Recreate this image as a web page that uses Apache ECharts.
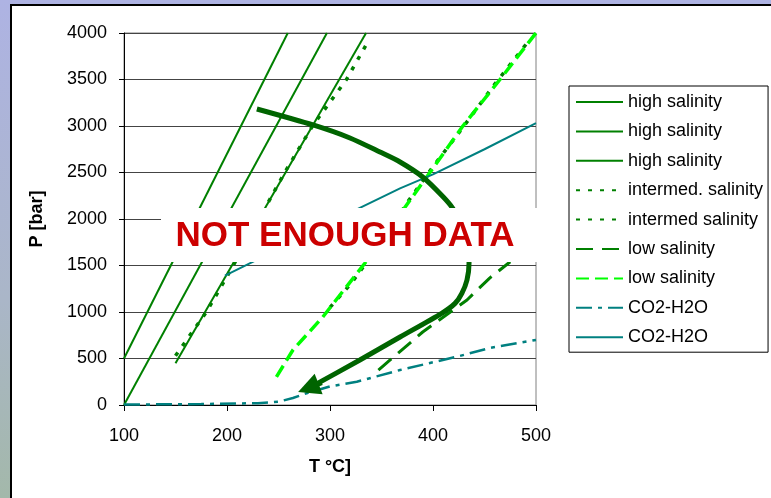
<!DOCTYPE html>
<html>
<head>
<meta charset="utf-8">
<script src="https://cdn.jsdelivr.net/npm/echarts@6/dist/echarts.min.js"></script>
<style>
  html, body { margin: 0; padding: 0; }
  body { width: 771px; height: 498px; overflow: hidden; position: relative;
         background: linear-gradient(to bottom, #aeb3e3 0%, #aab6c8 60%, #a3b8aa 100%); }
  #frame { position: absolute; left: 10px; top: 4px; right: 0; bottom: 0;
           background: #fff; border-left: 2px solid #000; border-top: 2px solid #000; }
  #chart { position: absolute; left: 0; top: 0; width: 771px; height: 498px; }
</style>
</head>
<body>
<div id="frame"></div>
<div id="chart"></div>
<script>
// ---- data (T in °C, P in bar) ----
const seriesNames = [
  'high salinity', 'high salinity ', 'high salinity  ',
  'intermed. salinity', 'intermed salinity',
  'low salinity', 'low salinity ',
  'CO2-H2O', 'CO2-H2O '
];
const highSal1 = [[100, 500], [259, 4000]];
const highSal2 = [[100, 0], [297, 4000]];
const highSal3 = [[150, 450], [335, 4000]];
const intermedSal1 = [[150, 530], [180, 1000], [202, 1420], [231, 2000], [256, 2500], [283, 3000], [316, 3500], [338, 3930]];
const intermedSal2 = [[300, 1050], [320, 1300], [340, 1600], [376, 2193], [399, 2548], [425, 2925], [460, 3450], [494, 3930]];
const lowSal1 = [[347, 376], [390, 785], [433, 1129], [455, 1365], [475, 1540]];
const lowSal2 = [[248, 303], [264, 591], [293, 946], [334, 1527], [373, 2130], [397, 2500], [429, 3000], [465, 3500], [500, 4000]];
const co2DashDot = [[100, 5], [175, 10], [230, 20], [250, 35], [264, 75], [278, 129], [300, 200], [326, 250], [368, 376], [426, 527], [455, 613], [500, 700]];
const co2Solid = [[198, 1390], [225, 1540], [250, 1680], [300, 1960], [329, 2120], [368, 2330], [400, 2480], [450, 2750], [500, 3030]];
const arrowPath = [[229, 3183], [283.5, 3011], [319.4, 2871], [348.5, 2720], [368, 2613], [390, 2452], [410, 2237], [419, 2118], [428, 1935], [433, 1720], [435, 1527], [433, 1344], [428, 1201], [421.4, 1093], [408.4, 986], [368, 731], [329, 484], [280, 184]];
const arrowHead = [[292, 240], [279, 184]];
const xTicks = { min: 100, max: 500, step: 100 };
const yTicks = { min: 0, max: 4000, step: 500 };
const overlayText = 'NOT ENOUGH DATA';
const xName = 'T °C]';
const yName = 'P [bar]';

// ---- styling ----
const FONT = '"Liberation Sans", Arial, sans-serif';
const DG = '#008000';
const LIME = '#00ff00';
const TEAL = '#008080';
const ARROW = '#006400';

function lineSeries(name, data, color, width, type) {
  return {
    name: name, type: 'line', data: data, symbol: 'none', showSymbol: false,
    lineStyle: { color: color, width: width, type: type, cap: 'butt' },
    itemStyle: { color: color },
    silent: true, z: 2
  };
}

const series = [
  lineSeries(seriesNames[0], highSal1, DG, 2, 'solid'),
  lineSeries(seriesNames[1], highSal2, DG, 2, 'solid'),
  lineSeries(seriesNames[2], highSal3, DG, 2, 'solid'),
  lineSeries(seriesNames[3], intermedSal1, DG, 3.5, [4, 8]),
  lineSeries(seriesNames[4], intermedSal2, DG, 3.5, [4, 8]),
  lineSeries(seriesNames[5], lowSal1, DG, 3, [17, 9]),
  lineSeries(seriesNames[6], lowSal2, LIME, 3.5, [13, 6]),
  lineSeries(seriesNames[7], co2DashDot, TEAL, 2.5, [16, 6, 4, 6]),
  lineSeries(seriesNames[8], co2Solid, TEAL, 2, 'solid'),
  {
    name: 'arrowCurve', type: 'line', data: arrowPath, symbol: 'none', showSymbol: false,
    smooth: 0.25,
    lineStyle: { color: ARROW, width: 5 },
    silent: true, z: 5
  },
  {
    name: 'arrowHead', type: 'lines', coordinateSystem: 'cartesian2d',
    data: [{ coords: arrowHead }],
    symbol: ['none', 'triangle'], symbolSize: [20, 22],
    lineStyle: { color: ARROW, width: 5, opacity: 1 },
    itemStyle: { color: ARROW },
    silent: true, z: 5
  }
];

const chart = echarts.init(document.getElementById('chart'), null, { renderer: 'canvas' });
chart.setOption({
  animation: false,
  backgroundColor: 'transparent',
  textStyle: { fontFamily: FONT },
  grid: { left: 124, right: 235, top: 33, bottom: 93, show: true, borderColor: '#808080', borderWidth: 1, backgroundColor: 'transparent' },
  xAxis: {
    type: 'value', min: xTicks.min, max: xTicks.max, interval: xTicks.step,
    name: xName, nameLocation: 'middle', nameGap: 53,
    nameTextStyle: { fontFamily: FONT, fontWeight: 'bold', fontSize: 18, color: '#000' },
    axisLine: { show: true, lineStyle: { color: '#000', width: 1 } },
    axisTick: { show: true, inside: false, length: 6, lineStyle: { color: '#000' } },
    axisLabel: { margin: 22, fontSize: 18, color: '#000', fontFamily: FONT, formatter: function (v) { return String(v); } },
    splitLine: { show: false }
  },
  yAxis: {
    type: 'value', min: yTicks.min, max: yTicks.max, interval: yTicks.step,
    name: yName, nameLocation: 'middle', nameGap: 78, nameRotate: 90,
    nameTextStyle: { fontFamily: FONT, fontWeight: 'bold', fontSize: 18, color: '#000' },
    axisLine: { show: true, lineStyle: { color: '#000', width: 1 } },
    axisTick: { show: true, inside: false, length: 5, lineStyle: { color: '#000' } },
    axisLabel: { margin: 17, fontSize: 18, color: '#000', fontFamily: FONT, formatter: function (v) { return String(v); } },
    splitLine: { show: true, lineStyle: { color: '#444', width: 1 } }
  },
  legend: {
    data: seriesNames,
    orient: 'vertical', left: 569, top: 86,
    padding: [7, 5, 6, 6],
    itemWidth: 47, itemHeight: 18, itemGap: 11.4,
    backgroundColor: '#fff', borderColor: '#000', borderWidth: 1, borderRadius: 0,
    itemStyle: { opacity: 0, borderWidth: 0 },
    formatter: function (n) { return n.trim(); },
    textStyle: { fontFamily: FONT, fontSize: 18, color: '#000', lineHeight: 18, padding: [0, 0, 0, 0] },
    selectedMode: false
  },
  graphic: [
    { type: 'rect', z: 100, left: 161, top: 208, shape: { width: 380, height: 54 }, style: { fill: '#fff' } },
    { type: 'text', z: 101, x: 345, y: 236,
      style: { text: overlayText, fill: '#cc0000', font: 'bold 35px ' + FONT, textAlign: 'center', textVerticalAlign: 'middle' } }
  ],
  series: series
});
</script>
</body>
</html>
